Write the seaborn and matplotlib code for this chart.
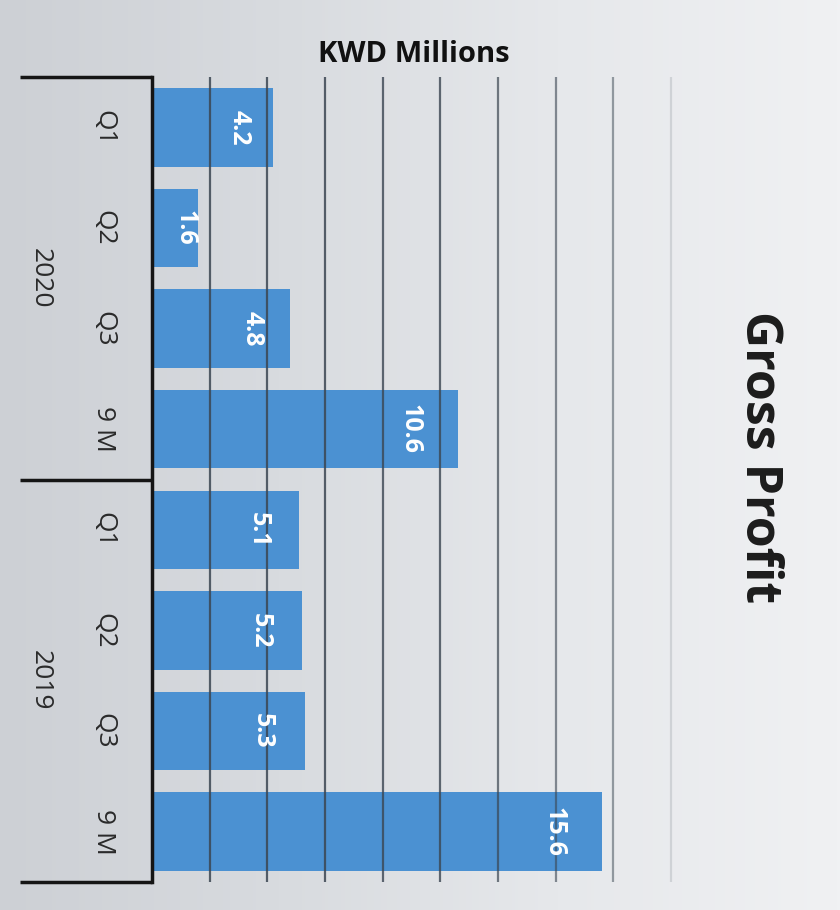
import matplotlib
matplotlib.use('Agg')
import matplotlib.pyplot as plt
import matplotlib.transforms as mtrans
from matplotlib.colors import LinearSegmentedColormap
import seaborn as sns
import numpy as np
import pandas as pd

# ---- data ----
years = ["2020", "2020", "2020", "2020", "2019", "2019", "2019", "2019"]
periods = ["Q1", "Q2", "Q3", "9 M", "Q1", "Q2", "Q3", "9 M"]
gross_profit = [4.2, 1.6, 4.8, 10.6, 5.1, 5.2, 5.3, 15.6]
year_labels = ["2020", "2019"]
grid_values = [2, 4, 6, 8, 10, 12, 14, 16, 18]

sns.set_theme(style='white')
plt.rcParams['font.family'] = ['Open Sans', 'DejaVu Sans']

W, H = 840, 910
fig = plt.figure(figsize=(W / 100, H / 100), dpi=100)

# background gradient
bg = fig.add_axes([0, 0, 1, 1], zorder=-10)
grad = np.linspace(0, 1, 256).reshape(1, -1)
cmap = LinearSegmentedColormap.from_list('bg', ['#cdd0d5', '#d8dbdf', '#e6e8eb', '#f0f1f3'])
bg.imshow(grad, aspect='auto', cmap=cmap, extent=[0, 1, 0, 1])
bg.axis('off')

ax_left, ax_right, ax_top, ax_bottom = 152, 700, 77, 882
ax = fig.add_axes([ax_left / W, 1 - ax_bottom / H, (ax_right - ax_left) / W, (ax_bottom - ax_top) / H])
ax.patch.set_alpha(0)

df = pd.DataFrame({
    'key': [f"{y} {p}" for y, p in zip(years, periods)],
    'value': gross_profit,
})
sns.barplot(data=df, x='value', y='key', orient='h', color='#4b91d2',
            width=0.78, saturation=1, ax=ax, zorder=2, linewidth=0, edgecolor='none')

ax.set_xlim(0, 19)
ax.set_ylim(7.5, -0.5)
for s in ['top', 'right', 'bottom']:
    ax.spines[s].set_visible(False)
ax.spines['left'].set_color('#151515')
ax.spines['left'].set_linewidth(2.5)
ax.set_xticks([])
ax.set_xlabel('')
ax.set_ylabel('')
ax.set_yticks(range(len(periods)))
ax.set_yticklabels(periods, rotation=-90, fontsize=19, color='#2a2a2a', va='center')
ax.tick_params(axis='y', length=0, pad=26)

# gridlines
alphas = [0.85, 0.85, 0.85, 0.8, 0.8, 0.7, 0.6, 0.5, 0.15]
for g, a in zip(grid_values, alphas):
    ax.axvline(g, color='#3b4652', lw=1.6, alpha=a, zorder=3)

# bracket lines
trans = mtrans.blended_transform_factory(ax.transAxes, ax.transData)
xleft = (20 - ax_left) / (ax_right - ax_left)
for yv in [-0.5, 3.5, 7.5]:
    ax.plot([xleft, 0], [yv, yv], transform=trans, color='#151515', lw=2.5,
            clip_on=False, solid_capstyle='butt')

# year labels
xyear = (40 - ax_left) / (ax_right - ax_left)
for lab, yc in zip(year_labels, [1.5, 5.5]):
    ax.text(xyear, yc, lab, transform=trans, rotation=-90, ha='center', va='center',
            fontsize=19, color='#2a2a2a')

# value labels
for i, v in enumerate(gross_profit):
    xpos = max(v - 1.65, v * 0.72)
    ax.text(xpos, i, f"{v}", rotation=-90, ha='center', va='center', fontsize=18,
            fontweight='bold', color='white', zorder=4)

fig.text(414 / W, 1 - 55 / H, 'KWD Millions', ha='center', va='center', fontsize=21,
         fontweight='bold', color='#111111')
fig.text(759 / W, 1 - 457 / H, 'Gross Profit', rotation=-90, ha='center', va='center',
         fontsize=36, fontweight='bold', color='#1c1c1c')

fig.savefig('out.png', dpi=100)
